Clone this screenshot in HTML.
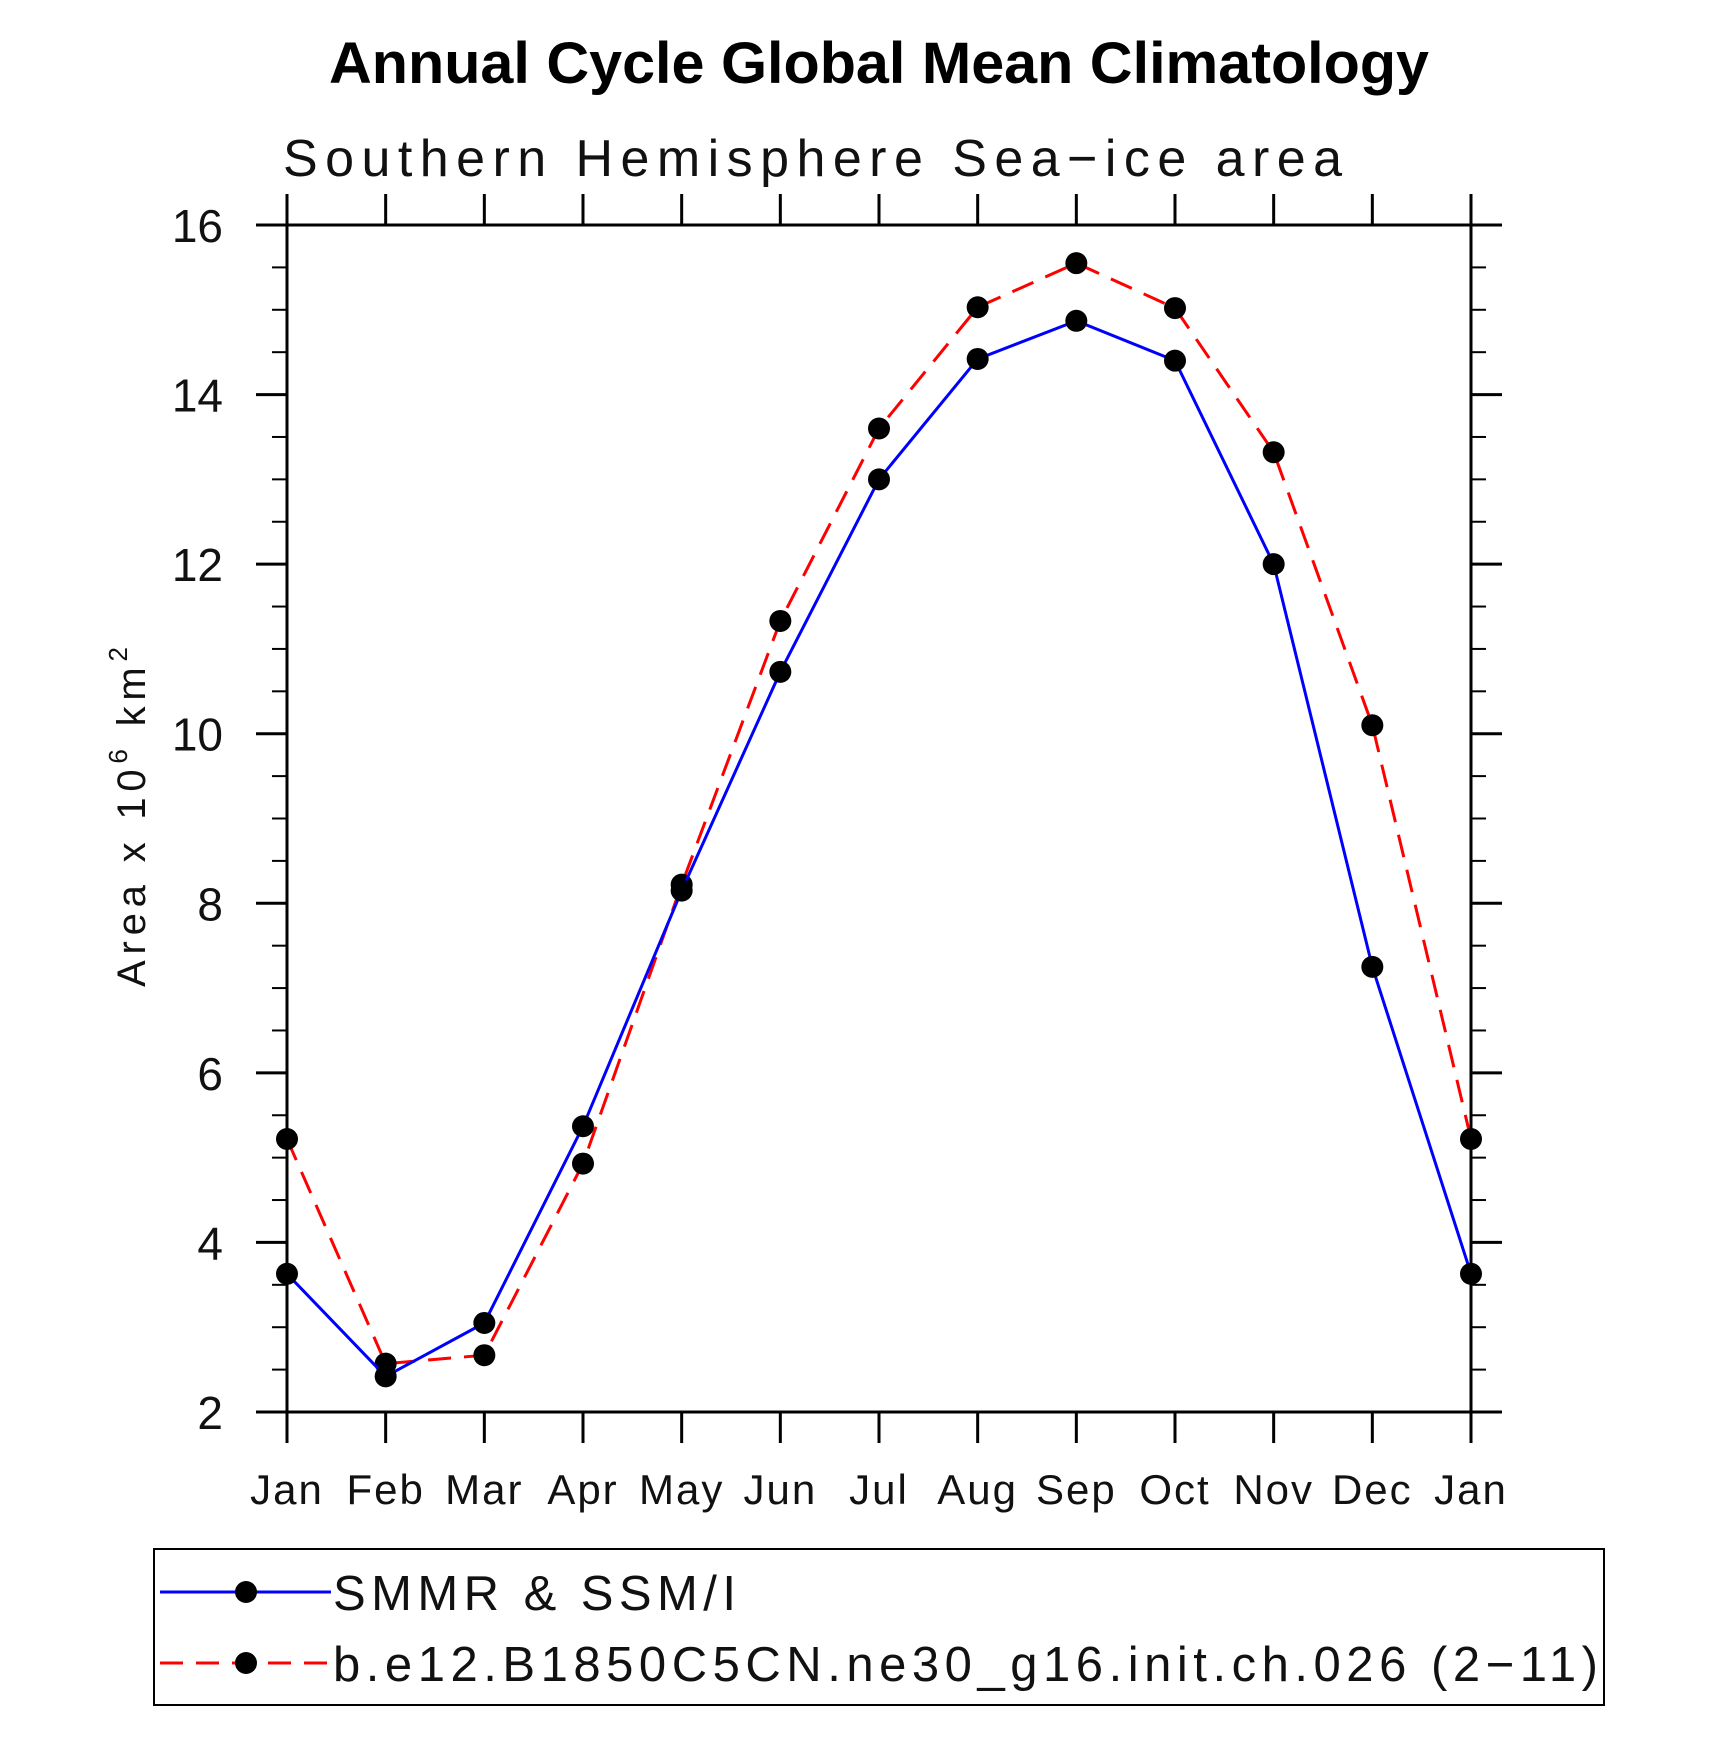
<!DOCTYPE html>
<html><head><meta charset="utf-8"><style>
html,body{margin:0;padding:0;background:#fff;}
svg{display:block;font-family:"Liberation Sans",sans-serif;}
</style></head><body>
<svg id="chart" width="1710" height="1747" viewBox="0 0 1710 1747">
<text x="329" y="83" font-size="58" font-weight="bold" textLength="1100" lengthAdjust="spacingAndGlyphs">Annual Cycle Global Mean Climatology</text>
<text x="283" y="176" font-size="52" textLength="1059" fill="#111">Southern Hemisphere Sea−ice area</text>
<text transform="translate(145,987) rotate(-90)" font-size="40" textLength="340" fill="#111">Area x 10<tspan font-size="26" dy="-18">6</tspan><tspan dy="18"> km</tspan><tspan font-size="26" dy="-18">2</tspan></text>
<g id="axes"></g>
<g id="series"></g>
<g>
<rect x="154" y="1549" width="1450" height="156" fill="none" stroke="#000" stroke-width="2"/>
<line x1="160" y1="1592" x2="331" y2="1592" stroke="#0000ff" stroke-width="3"/>
<circle cx="246" cy="1592" r="11" fill="#000"/>
<text x="333" y="1610" font-size="49" textLength="403" fill="#111">SMMR &amp; SSM/I</text>
<line x1="160" y1="1663" x2="331" y2="1663" stroke="#ff0000" stroke-width="3" stroke-dasharray="23,13"/>
<circle cx="246" cy="1663" r="11" fill="#000"/>
<text x="333" y="1681" font-size="49" textLength="1265" fill="#111">b.e12.B1850C5CN.ne30_g16.init.ch.026 (2−11)</text>
</g>
</svg>
<script>
const months = ["Jan","Feb","Mar","Apr","May","Jun","Jul","Aug","Sep","Oct","Nov","Dec","Jan"];
const yTicks = [2,4,6,8,10,12,14,16];
const obsValues = [3.63,2.42,3.05,5.37,8.15,10.73,13.0,14.42,14.87,14.4,12.0,7.25,3.63];
const modelValues = [5.22,2.57,2.67,4.93,8.22,11.33,13.6,15.03,15.55,15.02,13.32,10.1,5.22];

const NS="http://www.w3.org/2000/svg";
const L=287,R=1471,T=225,B=1412,yMin=2,yMax=16;
function xs(i){return L+(R-L)*i/(months.length-1);}
function ys(v){return B-(B-T)*(v-yMin)/(yMax-yMin);}
function mk(tag,attrs,parent){const e=document.createElementNS(NS,tag);for(const k in attrs)e.setAttribute(k,attrs[k]);parent.appendChild(e);return e;}
const axes=document.getElementById('axes'),ser=document.getElementById('series');
const frame=mk('rect',{x:L,y:T,width:R-L,height:B-T,fill:'none',stroke:'#000','stroke-width':3},axes);


for(let v=yMin;v<=yMax+1e-9;v+=0.5){
  const y=ys(v),major=Math.abs(v-Math.round(v/2)*2)<1e-9,len=major?31:15;
  const a=mk('line',{x1:L-len,y1:y,x2:L,y2:y,stroke:'#000','stroke-width':major?3:2},axes);
  
  
  const b=mk('line',{x1:R,y1:y,x2:R+len,y2:y,stroke:'#000','stroke-width':major?3:2},axes);
  
  
}
yTicks.forEach(v=>{
  const t=mk('text',{x:223,y:ys(v)+17,'font-size':46,'text-anchor':'end',fill:'#111'},axes);
  t.textContent=String(v);
  
  
});
months.forEach((m,i)=>{
  const x=xs(i);
  const a=mk('line',{x1:x,y1:B,x2:x,y2:B+31,stroke:'#000','stroke-width':3},axes);
  
  
  const b=mk('line',{x1:x,y1:T-31,x2:x,y2:T,stroke:'#000','stroke-width':3},axes);
  
  
  const t=mk('text',{x:x,y:1504,'font-size':42,'text-anchor':'middle','letter-spacing':2,fill:'#111'},axes);
  t.textContent=m;
  
  
});
function series(vals,color,dash,name){
  const pts=vals.map((v,i)=>xs(i)+','+ys(v)).join(' ');
  const attrs={points:pts,fill:'none',stroke:color,'stroke-width':3};
  if(dash)attrs['stroke-dasharray']=dash;
  const p=mk('polyline',attrs,ser);
  
  
  vals.forEach((v,i)=>{
    const c=mk('circle',{cx:xs(i),cy:ys(v),r:11,fill:'#000'},ser);
    
    
  });
}
series(modelValues,'#ff0000','23,13','model');
series(obsValues,'#0000ff',null,'obs');
</script>
</body></html>
